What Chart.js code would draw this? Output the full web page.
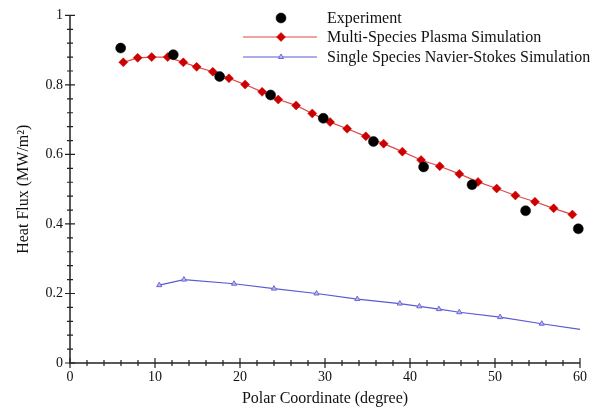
<!DOCTYPE html>
<html>
<head>
<meta charset="utf-8">
<script src="https://cdn.jsdelivr.net/npm/chart.js@4"></script>
<style>
  html, body { margin: 0; padding: 0; background: #fff; }
  #wrap { width: 606px; height: 408px; position: relative; }
</style>
</head>
<body>
<div id="wrap"><canvas id="chart"></canvas></div>
<script>
// Experiment points
const expX = [5.96, 12.15, 17.6, 23.6, 29.8, 35.7, 41.6, 47.3, 53.6, 59.8];
const expY = [0.906, 0.887, 0.824, 0.771, 0.704, 0.637, 0.564, 0.513, 0.438, 0.386];

// Multi-species plasma simulation
const plasmaX = [6.27, 7.96, 9.61, 11.49, 13.33, 14.9, 16.8, 18.7, 20.6, 22.6, 24.5, 26.6, 28.5, 30.6,
                 32.6, 34.8, 36.9, 39.1, 41.3, 43.5, 45.8, 48.0, 50.2, 52.4, 54.7, 56.9, 59.1];
const plasmaY = [0.865, 0.878, 0.880, 0.880, 0.865, 0.852, 0.838, 0.819, 0.801, 0.780, 0.758, 0.741, 0.718, 0.693,
                 0.674, 0.652, 0.631, 0.608, 0.584, 0.566, 0.544, 0.521, 0.502, 0.482, 0.464, 0.445, 0.427];

// Single species Navier-Stokes simulation (last point has no marker)
const nsX = [10.5, 13.4, 19.3, 24.0, 29.0, 33.8, 38.8, 41.1, 43.4, 45.8, 50.6, 55.5, 60.0];
const nsY = [0.224, 0.240, 0.228, 0.214, 0.200, 0.184, 0.171, 0.163, 0.155, 0.146, 0.132, 0.113, 0.097];

const xTicks = [0, 10, 20, 30, 40, 50, 60];
const yTicks = [0, 0.2, 0.4, 0.6, 0.8, 1];
const yTickLabels = ['0', '0.2', '0.4', '0.6', '0.8', '1'];

const SERIF = '"Liberation Serif", "DejaVu Serif", serif';

const toPoints = (xs, ys) => xs.map((x, i) => ({ x: x, y: ys[i] }));

// Draws the axis lines with major/minor ticks crossing the line
const axesPlugin = {
  id: 'crossAxes',
  afterDatasetsDraw(chart) {
    const { ctx, chartArea, scales } = chart;
    const xs = scales.x, ys = scales.y;
    ctx.save();
    ctx.strokeStyle = '#222';
    ctx.lineWidth = 1.5;
    ctx.beginPath();
    ctx.moveTo(chartArea.left, chartArea.top);
    ctx.lineTo(chartArea.left, chartArea.bottom);
    ctx.lineTo(chartArea.right, chartArea.bottom);
    ctx.stroke();

    ctx.lineWidth = 1.2;
    ctx.beginPath();
    for (let v = 0; v <= 60.001; v += 2) {
      const px = xs.getPixelForValue(v);
      const major = Math.abs(v % 10) < 0.001;
      const h = major ? 5 : 3;
      ctx.moveTo(px, chartArea.bottom - h);
      ctx.lineTo(px, chartArea.bottom + h);
    }
    for (let i = 0; i <= 25; i++) {
      const v = i * 0.04;
      const py = ys.getPixelForValue(v);
      const major = i % 5 === 0;
      const h = major ? 5 : 3;
      ctx.moveTo(chartArea.left - h, py);
      ctx.lineTo(chartArea.left + h, py);
    }
    ctx.stroke();
    ctx.restore();
  }
};

// Legend in the top right, drawn from the dataset styles
const legendPlugin = {
  id: 'cornerLegend',
  afterDraw(chart) {
    const { ctx } = chart;
    const rows = [18, 37, 57];
    const lineX0 = 243, lineX1 = 317, markX = 281, textX = 327;
    ctx.save();
    chart.data.datasets.forEach((ds, i) => {
      const y = rows[i];
      if (ds.showLine !== false) {
        ctx.strokeStyle = ds.borderColor;
        ctx.lineWidth = ds.borderWidth;
        ctx.beginPath();
        ctx.moveTo(lineX0, y);
        ctx.lineTo(lineX1, y);
        ctx.stroke();
      }
      const r = Array.isArray(ds.pointRadius) ? ds.pointRadius[0] : ds.pointRadius;
      ctx.fillStyle = ds.pointBackgroundColor;
      ctx.strokeStyle = ds.pointBorderColor;
      ctx.lineWidth = ds.pointBorderWidth || 1;
      ctx.beginPath();
      if (ds.pointStyle === 'circle') {
        ctx.arc(markX, y, r, 0, Math.PI * 2);
      } else if (ds.pointStyle === 'rectRot') {
        ctx.moveTo(markX, y - r); ctx.lineTo(markX + r, y);
        ctx.lineTo(markX, y + r); ctx.lineTo(markX - r, y); ctx.closePath();
      } else {
        ctx.moveTo(markX, y - r); ctx.lineTo(markX + r * 0.87, y + r * 0.5);
        ctx.lineTo(markX - r * 0.87, y + r * 0.5); ctx.closePath();
      }
      ctx.fill();
      ctx.stroke();
      ctx.fillStyle = '#111';
      ctx.font = '16px ' + SERIF;
      ctx.textBaseline = 'middle';
      ctx.textAlign = 'left';
      ctx.fillText(ds.label, textX, y + 1);
    });
    ctx.restore();
  }
};

const nsRadius = nsX.map((x, i) => (i === nsX.length - 1 ? 0 : 3));

new Chart(document.getElementById('chart'), {
  type: 'scatter',
  data: {
    datasets: [
      {
        label: 'Experiment',
        data: toPoints(expX, expY),
        showLine: false,
        clip: false,
        pointStyle: 'circle',
        pointRadius: 5,
        pointBackgroundColor: '#000',
        pointBorderColor: '#000',
        pointBorderWidth: 0.5,
        order: 0
      },
      {
        label: 'Multi-Species Plasma Simulation',
        data: toPoints(plasmaX, plasmaY),
        showLine: true,
        clip: false,
        borderColor: '#e04848',
        borderWidth: 1.2,
        pointStyle: 'rectRot',
        pointRadius: 4.5,
        pointBackgroundColor: '#cc0000',
        pointBorderColor: '#cc0000',
        pointBorderWidth: 0.5,
        order: 1
      },
      {
        label: 'Single Species Navier-Stokes Simulation',
        data: toPoints(nsX, nsY),
        showLine: true,
        clip: false,
        borderColor: '#5a5ad2',
        borderWidth: 1.2,
        pointStyle: 'triangle',
        pointRadius: nsRadius,
        pointBackgroundColor: '#b8b8ec',
        pointBorderColor: '#6a6ad6',
        pointBorderWidth: 1,
        order: 2
      }
    ]
  },
  options: {
    responsive: true,
    maintainAspectRatio: false,
    animation: false,
    layout: { padding: { top: 14, right: 26, left: 0, bottom: 0 } },
    plugins: {
      legend: { display: false },
      tooltip: { enabled: false }
    },
    scales: {
      x: {
        type: 'linear',
        min: 0,
        max: 60,
        afterFit: (scale) => { scale.height = 45; },
        afterBuildTicks: (scale) => { scale.ticks = xTicks.map(v => ({ value: v })); },
        grid: { display: false, drawTicks: false },
        border: { display: false },
        ticks: { color: '#111', font: { family: SERIF, size: 14 }, padding: 6, maxRotation: 0 },
        title: {
          display: true,
          text: 'Polar Coordinate (degree)',
          color: '#111',
          font: { family: SERIF, size: 16 },
          padding: { top: 0, bottom: 0 }
        }
      },
      y: {
        type: 'linear',
        min: 0,
        max: 1,
        afterFit: (scale) => { scale.width = 70; },
        afterBuildTicks: (scale) => { scale.ticks = yTicks.map(v => ({ value: v })); },
        grid: { display: false, drawTicks: false },
        border: { display: false },
        ticks: {
          color: '#111',
          font: { family: SERIF, size: 14 },
          padding: 7,
          callback: (value, index) => yTickLabels[index]
        },
        title: {
          display: true,
          text: 'Heat Flux (MW/m²)',
          color: '#111',
          font: { family: SERIF, size: 16 },
          padding: { top: 14, bottom: 0 }
        }
      }
    }
  },
  plugins: [axesPlugin, legendPlugin]
});
</script>
</body>
</html>
